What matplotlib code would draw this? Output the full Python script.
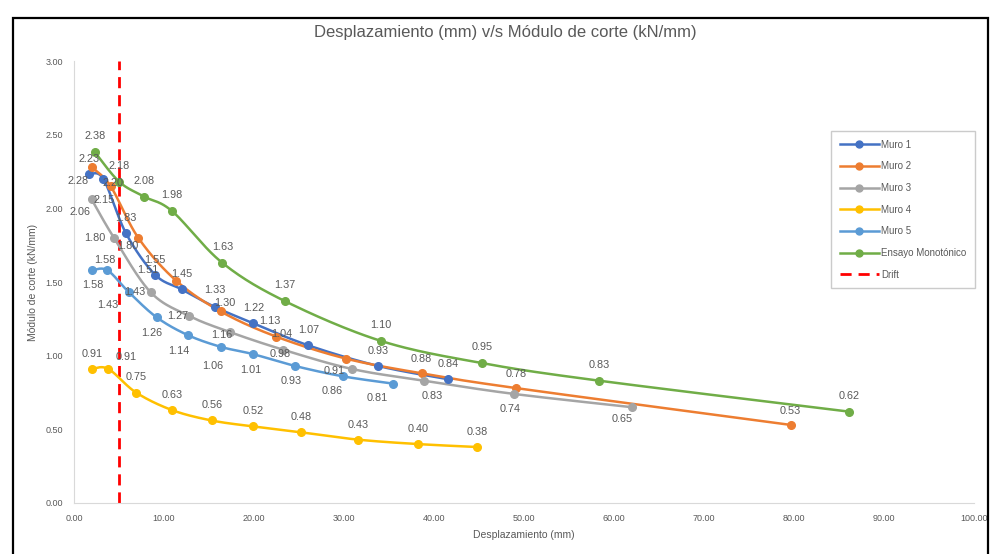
import matplotlib
matplotlib.use("Agg")
import matplotlib.pyplot as plt
import numpy as np
from matplotlib.lines import Line2D
from matplotlib.patches import Rectangle

plt.rcParams['font.family'] = ['Liberation Sans Narrow', 'Liberation Sans', 'DejaVu Sans']

# datos
series_names = ['Muro 1', 'Muro 2', 'Muro 3', 'Muro 4', 'Muro 5', 'Ensayo Monotónico']

muro1_x = [1.67, 3.26, 5.78, 9.0, 11.96, 15.67, 19.92, 26.03, 33.81, 41.59]
muro1_y = [2.23, 2.20, 1.83, 1.55, 1.45, 1.33, 1.22, 1.07, 0.93, 0.84]

muro2_x = [1.97, 4.07, 7.14, 11.33, 16.3, 22.44, 30.22, 38.63, 49.11, 79.63]
muro2_y = [2.28, 2.15, 1.80, 1.51, 1.30, 1.13, 0.98, 0.88, 0.78, 0.53]

muro3_x = [1.97, 4.44, 8.52, 12.78, 17.33, 23.26, 30.86, 38.89, 48.92, 62.03]
muro3_y = [2.06, 1.80, 1.43, 1.27, 1.16, 1.04, 0.91, 0.83, 0.74, 0.65]

muro4_x = [1.97, 3.81, 6.89, 10.92, 15.3, 19.86, 25.19, 31.56, 38.22, 44.78]
muro4_y = [0.91, 0.91, 0.75, 0.63, 0.56, 0.52, 0.48, 0.43, 0.40, 0.38]

muro5_x = [1.97, 3.7, 6.11, 9.19, 12.63, 16.3, 19.92, 24.56, 29.86, 35.48]
muro5_y = [1.58, 1.58, 1.43, 1.26, 1.14, 1.06, 1.01, 0.93, 0.86, 0.81]

mono_x = [2.33, 5.03, 7.78, 10.92, 16.48, 23.44, 34.11, 45.3, 58.37, 86.14]
mono_y = [2.38, 2.18, 2.08, 1.98, 1.63, 1.37, 1.10, 0.95, 0.83, 0.62]

drift_x = 5.0

xs = [muro1_x, muro2_x, muro3_x, muro4_x, muro5_x, mono_x]
ys = [muro1_y, muro2_y, muro3_y, muro4_y, muro5_y, mono_y]
colors = ['#4472C4', '#ED7D31', '#A5A5A5', '#FFC000', '#5B9BD5', '#70AD47']

# posicion de etiquetas (pixeles, y hacia arriba)
default_off = [(0, 15), (0, 14), (-6, -14), (0, 15), (-6, -16), (0, 16)]
label_off = {
    (0, 1): (10, -4), (0, 5): (0, 17),
    (1, 0): (-14, -14), (1, 1): (-7, -14), (1, 2): (-10, -8), (1, 3): (-28, 11),
    (1, 4): (4, 8), (1, 5): (-6, 16), (1, 6): (-66, 5),
    (2, 0): (-12, -13), (2, 1): (-19, 0), (2, 2): (-16, 0), (2, 3): (-11, 0),
    (2, 4): (-8, -3), (2, 5): (-2, 16), (2, 6): (-18, -2), (2, 7): (8, -15),
    (2, 8): (-4, -15), (2, 9): (-10, -12),
    (3, 1): (18, 12),
    (4, 0): (1, -15), (4, 1): (-2, 10), (4, 2): (-21, -13), (4, 3): (-5, -16),
    (4, 4): (-9, -16), (4, 5): (-8, -19), (4, 6): (-2, -16), (4, 7): (-4, -15),
    (4, 8): (-11, -15), (4, 9): (-16, -14),
}


def smooth(x, y, n=25):
    # curva suavizada tipo Excel (bezier por tramos)
    p = np.column_stack([x, y])
    p = np.vstack([p[0], p, p[-1]])
    t = np.linspace(0, 1, n)[:, None]
    segs = []
    for i in range(1, len(p) - 2):
        p0, p1, p2, p3 = p[i - 1], p[i], p[i + 1], p[i + 2]
        c1 = p1 + (p2 - p0) / 6
        c2 = p2 - (p3 - p1) / 6
        segs.append((1 - t) ** 3 * p1 + 3 * (1 - t) ** 2 * t * c1
                    + 3 * (1 - t) * t ** 2 * c2 + t ** 3 * p2)
    s = np.vstack(segs)
    return s[:, 0], s[:, 1]


fig = plt.figure(figsize=(9.9, 5.54), dpi=100)
ax = fig.add_axes([74 / 990, 51 / 554, 900 / 990, 442 / 554])

for k in range(len(xs)):
    sx, sy = smooth(xs[k], ys[k])
    ax.plot(sx, sy, color=colors[k], lw=1.8, zorder=3)
    ax.plot(xs[k], ys[k], 'o', color=colors[k], ms=5.5, zorder=4)
    for i, (xv, yv) in enumerate(zip(xs[k], ys[k])):
        dx, dy = label_off.get((k, i), default_off[k])
        ax.annotate(f'{yv:.2f}', (xv, yv), xytext=(dx, dy), textcoords='offset pixels',
                    ha='center', va='center', fontsize=7.8, color='#595959', zorder=5)

ax.axvline(drift_x, color='#FF0000', lw=2, ls=(0, (4, 2.5)), zorder=2)

ax.set_xlim(0, 100)
ax.set_ylim(0, 3)
ax.set_xticks(np.arange(0, 101, 10))
ax.set_yticks(np.arange(0, 3.01, 0.5))
ax.xaxis.set_major_formatter(lambda v, p: f'{v:.2f}')
ax.yaxis.set_major_formatter(lambda v, p: f'{v:.2f}')
ax.tick_params(length=0, labelsize=6.5, labelcolor='#595959', pad=8)
for s in ['top', 'right']:
    ax.spines[s].set_visible(False)
for s in ['left', 'bottom']:
    ax.spines[s].set_color('#D9D9D9')
ax.set_xlabel('Desplazamiento (mm)', fontsize=7.5, color='#595959', labelpad=5)
ax.set_ylabel('Módulo de corte (kN/mm)', fontsize=7.5, color='#595959', labelpad=5)
fig.text(505 / 990, 1 - 32 / 554, 'Desplazamiento (mm) v/s Módulo de corte (kN/mm)',
         ha='center', va='center', fontsize=12, color='#595959')

handles = [Line2D([], [], color=c, lw=1.8, marker='o', ms=5) for c in colors]
handles.append(Line2D([], [], color='#FF0000', lw=2, ls=(0, (4, 2.5))))
leg = ax.legend(handles, series_names + ['Drift'], loc='upper left',
                bbox_to_anchor=(0.841, 0.842), fontsize=7, labelspacing=1.2,
                handlelength=4, handletextpad=0.3, borderpad=0.9, fancybox=False,
                frameon=True, borderaxespad=0)
leg.get_frame().set_edgecolor('#BFBFBF')
leg.get_frame().set_linewidth(1)
for t in leg.get_texts():
    t.set_color('#595959')

# marco negro exterior
fig.patches.append(Rectangle((13 / 990, -0.05), 975 / 990, 1 - 18 / 554 + 0.05,
                             transform=fig.transFigure, fill=False, ec='black', lw=1.6))

fig.savefig('out.png', dpi=100)
